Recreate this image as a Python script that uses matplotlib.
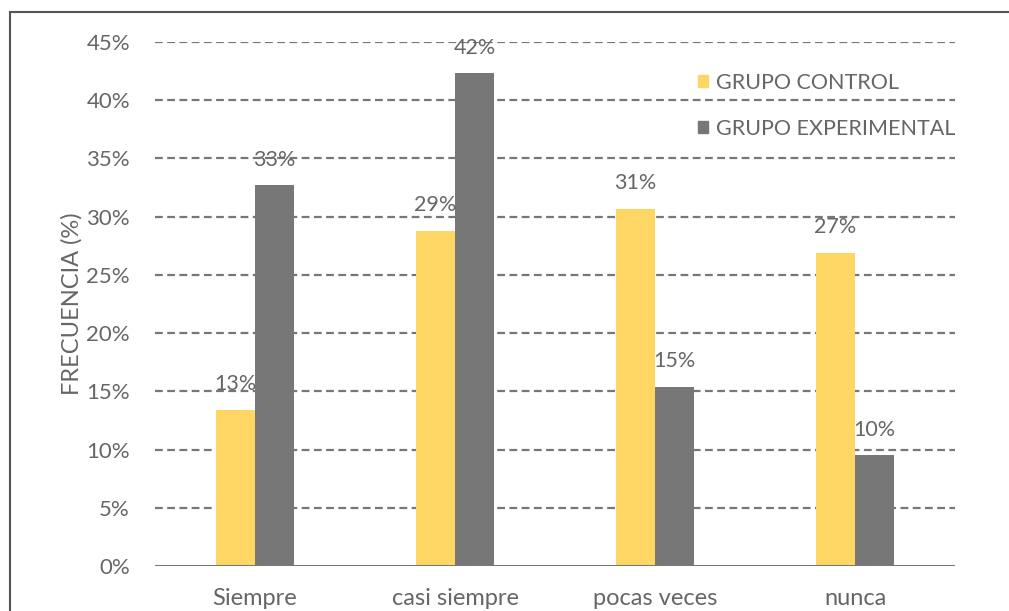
import matplotlib.pyplot as plt
import numpy as np
from matplotlib.lines import Line2D
from matplotlib.patches import Patch

categories = ["Siempre", "casi siempre", "pocas veces", "nunca"]
control = [13.4, 28.8, 30.7, 26.9]
experimental = [32.7, 42.3, 15.4, 9.5]
series_names = ["GRUPO CONTROL", "GRUPO EXPERIMENTAL"]
y_ticks = [0, 5, 10, 15, 20, 25, 30, 35, 40, 45]

yellow = "#fdd663"
gray = "#777777"
text_color = "#666666"

plt.rcParams["font.family"] = ["Lato", "DejaVu Sans"]

fig = plt.figure(figsize=(10.09, 6.11), dpi=100)
ax = fig.add_axes([0.1536, 0.0736, 0.793, 0.8576])

x = np.arange(len(categories))
width = 0.195

bars_c = ax.bar(x - width / 2, control, width, color=yellow, zorder=3)
bars_e = ax.bar(x + width / 2, experimental, width, color=gray, zorder=3)

for bars, values in [(bars_c, control), (bars_e, experimental)]:
    for bar, v in zip(bars, values):
        ax.annotate(
            f"{round(v):.0f}%",
            (bar.get_x() + bar.get_width() / 2, v),
            xytext=(0, 18.5),
            textcoords="offset points",
            ha="center",
            va="center",
            fontsize=15.5,
            color=text_color,
            zorder=4,
        )

ax.set_xlim(-0.5, len(categories) - 0.5)
ax.set_ylim(0, 45)
ax.set_yticks(y_ticks)
ax.set_yticklabels([f"{t}%" for t in y_ticks])
ax.set_xticks(x)
ax.set_xticklabels(categories)

for t in y_ticks[1:]:
    ax.axhline(t, color="#777777", lw=1.6, dashes=(3.5, 2), zorder=1)
ax.axhline(0, color="#777777", lw=2.2, zorder=4)

for side in ["top", "right", "left", "bottom"]:
    ax.spines[side].set_visible(False)
ax.tick_params(axis="both", length=0, labelcolor=text_color)
ax.tick_params(axis="y", pad=18, labelsize=16)
ax.tick_params(axis="x", pad=16, labelsize=17)

ax.set_ylabel("FRECUENCIA (%)", fontsize=17, color=text_color, labelpad=3)

handles = [Patch(color=yellow), Patch(color=gray)]
ax.legend(
    handles,
    series_names,
    loc="upper left",
    bbox_to_anchor=(0.655, 0.978),
    frameon=False,
    fontsize=15.5,
    labelcolor=text_color,
    handlelength=0.45,
    handleheight=0.45,
    handletextpad=0.35,
    labelspacing=1.2,
)

# outer border on the left and top edges
fig.add_artist(Line2D([0.0099, 0.0099], [0, 0.981], transform=fig.transFigure, color="#555555", lw=1.5))
fig.add_artist(Line2D([0.0099, 1.0], [0.981, 0.981], transform=fig.transFigure, color="#555555", lw=1.5))

fig.savefig("out.png", dpi=100)
